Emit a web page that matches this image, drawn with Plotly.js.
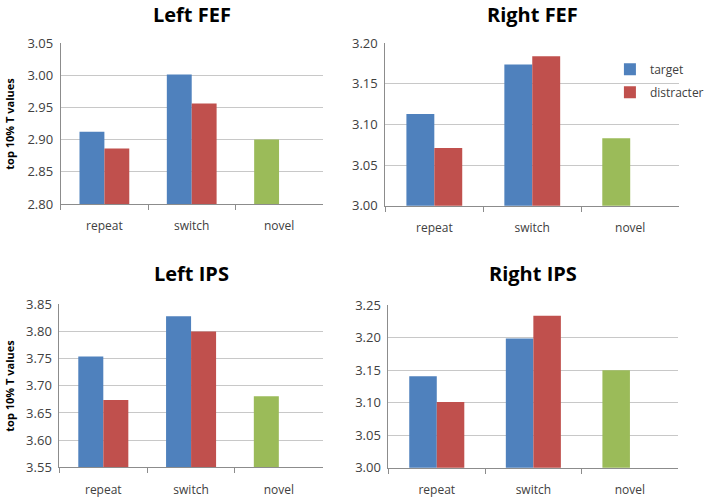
<!DOCTYPE html>
<html>
<head>
<meta charset="utf-8">
<script src="https://cdn.plot.ly/plotly-3.0.1.min.js"></script>
<style>
  body { margin: 0; background: white; }
  #chart { width: 709px; height: 498px; }
</style>
</head>
<body>
<div id="chart"></div>
<script>
// categories and panel data
const categories = ['repeat', 'switch', 'novel'];
const panelTitles = ['Left FEF', 'Right FEF', 'Left IPS', 'Right IPS'];

const leftFefTarget = [2.912, 3.001, 2.900];
const leftFefDistracter = [2.886, 2.956, null];
const rightFefTarget = [3.113, 3.174, 3.083];
const rightFefDistracter = [3.071, 3.184, null];
const leftIpsTarget = [3.754, 3.828, 3.681];
const leftIpsDistracter = [3.674, 3.800, null];
const rightIpsTarget = [3.141, 3.199, 3.150];
const rightIpsDistracter = [3.101, 3.234, null];

const yRanges = [[2.80, 3.05], [3.00, 3.20], [3.55, 3.85], [3.00, 3.25]];

const BLUE = '#4F81BD';
const RED = '#C0504D';
const GREEN = '#9BBB59';
const FONT = 'Open Sans, Liberation Sans, sans-serif';

const targets = [leftFefTarget, rightFefTarget, leftIpsTarget, rightIpsTarget];
const distracters = [leftFefDistracter, rightFefDistracter, leftIpsDistracter, rightIpsDistracter];

// plot areas (paper coords)
const xDomains = [[0.0889, 0.4725], [0.5642, 0.9944], [0.0870, 0.4725], [0.5688, 0.9930]];
const yDomains = [[0.5904, 0.9137], [0.5869, 0.9131], [0.0616, 0.3890], [0.0608, 0.3869]];

const traces = [];
targets.forEach((t, i) => {
    const suffix = i === 0 ? '' : String(i + 1);
    traces.push({
        type: 'bar',
        name: 'target',
        legendgroup: 'target',
        x: categories,
        y: t,
        xaxis: 'x' + suffix,
        yaxis: 'y' + suffix,
        // novel bar is drawn green in the target slot
        marker: { color: categories.map(c => c === 'novel' ? GREEN : BLUE) },
        showlegend: i === 1,
        legendrank: 1
    });
    traces.push({
        type: 'bar',
        name: 'distracter',
        legendgroup: 'distracter',
        x: categories,
        y: distracters[i],
        xaxis: 'x' + suffix,
        yaxis: 'y' + suffix,
        marker: { color: RED },
        showlegend: i === 1,
        legendrank: 2
    });
});

const layout = {
    width: 709,
    height: 498,
    margin: { l: 0, r: 0, t: 0, b: 0 },
    paper_bgcolor: 'white',
    plot_bgcolor: 'white',
    barmode: 'group',
    bargap: 0.43,
    bargroupgap: 0,
    font: { family: FONT, size: 12, color: '#404040' },
    showlegend: true,
    legend: {
        x: 0.893, y: 0.89, xanchor: 'left', yanchor: 'top',
        bgcolor: 'rgba(0,0,0,0)',
        font: { family: FONT, size: 12, color: '#404040' },
        itemwidth: 30,
        tracegroupgap: 4
    },
    annotations: []
};

panelTitles.forEach((title, i) => {
    const suffix = i === 0 ? '' : String(i + 1);
    layout['xaxis' + suffix] = {
        domain: xDomains[i],
        anchor: 'y' + suffix,
        showline: true,
        linecolor: '#8c8c8c',
        linewidth: 1,
        ticks: 'outside',
        tickson: 'boundaries',
        ticklen: 5,
        tickcolor: '#8c8c8c',
        ticklabelstandoff: 11,
        tickfont: { family: FONT, size: 12, color: '#404040' },
        showgrid: false,
        fixedrange: true
    };
    layout['yaxis' + suffix] = {
        domain: yDomains[i],
        anchor: 'x' + suffix,
        range: yRanges[i],
        dtick: 0.05,
        tickformat: '.2f',
        showline: true,
        linecolor: '#8c8c8c',
        linewidth: 1,
        showgrid: true,
        gridcolor: '#c8c8c8',
        ticks: '',
        ticklabelstandoff: 4,
        tickfont: { family: FONT, size: 13, color: '#404040' },
        zeroline: false,
        fixedrange: true
    };
    const xd = xDomains[i];
    layout.annotations.push({
        text: '<b>' + title + '</b>',
        xref: 'paper', yref: 'paper',
        x: (xd[0] + xd[1]) / 2,
        y: i < 2 ? 1 - 14 / 498 : 1 - 273 / 498,
        xanchor: 'center', yanchor: 'middle',
        showarrow: false,
        font: { family: FONT, size: 20, color: '#000000' }
    });
});

// y-axis titles on the left panels
[124, 386].forEach(py => {
    layout.annotations.push({
        text: '<b>top 10% T values</b>',
        xref: 'paper', yref: 'paper',
        x: 9 / 709, y: 1 - py / 498,
        xanchor: 'center', yanchor: 'middle',
        textangle: -90,
        showarrow: false,
        font: { family: FONT, size: 11, color: '#000000' }
    });
});

Plotly.newPlot('chart', traces, layout, { displayModeBar: false, staticPlot: true });
</script>
</body>
</html>
